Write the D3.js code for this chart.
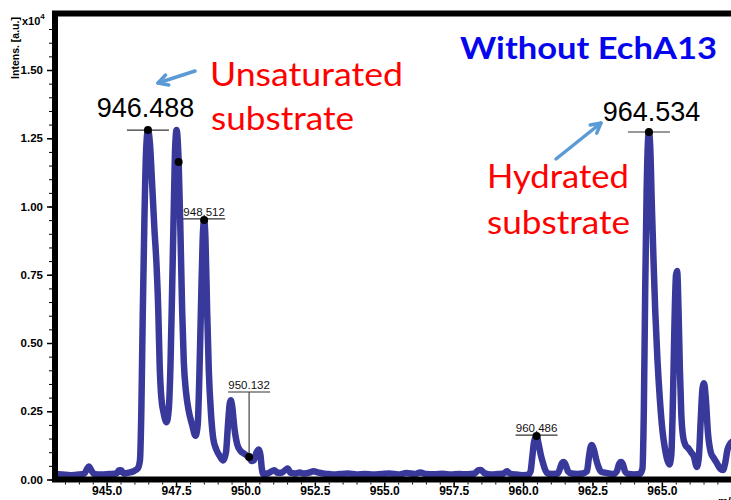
<!DOCTYPE html>
<html>
<head>
<meta charset="utf-8">
<script src="https://cdn.jsdelivr.net/npm/d3@7"></script>
<style>
  html, body { margin: 0; padding: 0; background: #fff; }
  svg { display: block; }
</style>
</head>
<body>
<svg id="chart" width="731" height="500"></svg>
<script>
// Mass spectrum, m/z vs. intensity (x10^4 a.u.)
const mz = [
  943.10, 943.40, 943.70, 944.00, 944.20, 944.30, 944.36, 944.44, 944.55, 944.80,
  945.10, 945.35, 945.45, 945.52, 945.62, 945.80, 946.00, 946.12, 946.20, 946.25,
  946.30, 946.36, 946.42, 946.488, 946.56, 946.64, 946.72, 946.80, 946.86, 946.91,
  946.97, 947.06, 947.16, 947.24, 947.30, 947.36, 947.42, 947.47, 947.52, 947.594,
  947.66, 947.72, 947.78, 947.86, 947.96, 948.08, 948.20, 948.28, 948.34, 948.40,
  948.46, 948.512, 948.56, 948.62, 948.68, 948.76, 948.84, 948.95, 949.08, 949.20,
  949.30, 949.37, 949.43, 949.47, 949.52, 949.60, 949.70, 949.82, 949.95, 950.05,
  950.132, 950.22, 950.30, 950.40, 950.48, 950.54, 950.59, 950.64, 950.80, 950.95,
  951.05, 951.15, 951.30, 951.45, 951.52, 951.62, 951.80, 951.95, 952.10, 952.30,
  952.45, 952.60, 952.80, 953.00, 953.20, 953.40, 953.70, 954.00, 954.30, 954.60,
  954.90, 955.20, 955.50, 955.80, 956.10, 956.30, 956.50, 956.80, 957.10, 957.40,
  957.70, 958.00, 958.25, 958.40, 958.48, 958.60, 958.85, 959.10, 959.30, 959.42,
  959.52, 959.75, 960.00, 960.18, 960.27, 960.33, 960.40, 960.486, 960.56, 960.64,
  960.72, 960.80, 960.90, 961.05, 961.25, 961.33, 961.40, 961.46, 961.53, 961.62,
  961.75, 961.95, 962.15, 962.30, 962.37, 962.43, 962.48, 962.55, 962.63, 962.72,
  962.82, 962.95, 963.10, 963.25, 963.38, 963.45, 963.53, 963.60, 963.68, 963.80,
  964.00, 964.20, 964.30, 964.35, 964.40, 964.45, 964.50, 964.534, 964.58, 964.64,
  964.70, 964.76, 964.84, 964.93, 965.02, 965.10, 965.20, 965.27, 965.34, 965.40,
  965.46, 965.51, 965.55, 965.60, 965.65, 965.70, 965.76, 965.85, 965.95, 966.05,
  966.15, 966.26, 966.33, 966.40, 966.46, 966.52, 966.58, 966.66, 966.76, 966.86,
  966.98, 967.10, 967.20, 967.28, 967.36, 967.45, 967.55
];
const intensity = [
  0.020, 0.018, 0.016, 0.018, 0.022, 0.040, 0.048, 0.035, 0.020, 0.018,
  0.020, 0.022, 0.034, 0.034, 0.022, 0.025, 0.032, 0.040, 0.070, 0.250,
  0.600, 0.950, 1.200, 1.280, 1.230, 1.080, 0.920, 0.780, 0.620, 0.420,
  0.300, 0.240, 0.210, 0.260, 0.420, 0.700, 1.000, 1.220, 1.280, 1.163,
  0.900, 0.620, 0.430, 0.320, 0.250, 0.200, 0.160, 0.200, 0.380, 0.640,
  0.880, 0.951, 0.880, 0.620, 0.400, 0.240, 0.150, 0.110, 0.085, 0.070,
  0.100, 0.200, 0.275, 0.290, 0.270, 0.190, 0.130, 0.105, 0.095, 0.088,
  0.082, 0.068, 0.070, 0.100, 0.110, 0.090, 0.040, 0.020, 0.022, 0.030,
  0.034, 0.025, 0.025, 0.036, 0.040, 0.025, 0.022, 0.026, 0.022, 0.025,
  0.030, 0.026, 0.022, 0.020, 0.018, 0.020, 0.022, 0.018, 0.020, 0.018,
  0.020, 0.022, 0.018, 0.024, 0.020, 0.026, 0.020, 0.019, 0.021, 0.018,
  0.020, 0.019, 0.022, 0.034, 0.035, 0.024, 0.018, 0.020, 0.022, 0.030,
  0.022, 0.018, 0.016, 0.018, 0.030, 0.080, 0.140, 0.159, 0.130, 0.090,
  0.060, 0.035, 0.022, 0.020, 0.022, 0.040, 0.060, 0.064, 0.055, 0.030,
  0.022, 0.020, 0.022, 0.030, 0.080, 0.118, 0.126, 0.110, 0.075, 0.045,
  0.028, 0.025, 0.022, 0.020, 0.030, 0.055, 0.064, 0.055, 0.028, 0.020,
  0.018, 0.020, 0.040, 0.250, 0.700, 1.050, 1.240, 1.273, 1.220, 1.000,
  0.800, 0.620, 0.440, 0.290, 0.180, 0.120, 0.070, 0.055, 0.090, 0.300,
  0.600, 0.750, 0.764, 0.620, 0.400, 0.240, 0.160, 0.125, 0.115, 0.100,
  0.085, 0.046, 0.080, 0.220, 0.330, 0.353, 0.300, 0.170, 0.100, 0.080,
  0.060, 0.040, 0.035, 0.060, 0.108, 0.130, 0.140
];

// Annotated peaks
const peakMz        = [946.488, 947.594, 948.512, 950.132, 960.486, 964.534];
const peakIntensity = [1.280,   1.163,   0.951,   0.082,   0.159,   1.273];
const peakText      = ["946.488", "", "948.512", "950.132", "960.486", "964.534"];

const yTicks = [0, 0.25, 0.5, 0.75, 1.0, 1.25, 1.5];
const xTicks = [945.0, 947.5, 950.0, 952.5, 955.0, 957.5, 960.0, 962.5, 965.0];

const svg = d3.select("#chart");
const plotLeft = 55, plotTop = 13.5, plotBottom = 479.5, plotRight = 731;

const x = d3.scaleLinear().domain([943.14, 967.49]).range([plotLeft, plotRight]);
const y = d3.scaleLinear().domain([0, 1.707]).range([plotBottom, plotTop]);

const axisFont = "'Liberation Sans', Arial, sans-serif";

// clip for the trace
svg.append("defs").append("clipPath").attr("id", "plotClip")
  .append("rect").attr("x", plotLeft + 3).attr("y", plotTop + 3)
  .attr("width", plotRight - plotLeft).attr("height", plotBottom - plotTop - 3);

// y axis: minor + major ticks
const yMinor = d3.range(0, 1.70, 0.05);
svg.append("g").attr("transform", `translate(${plotLeft - 3},0)`)
  .call(d3.axisLeft(y).tickValues(yMinor).tickSize(3).tickFormat(""))
  .call(g => g.select(".domain").remove())
  .call(g => g.selectAll("line").attr("stroke", "#000").attr("stroke-width", 1));

svg.append("g").attr("transform", `translate(${plotLeft - 3},0)`)
  .call(d3.axisLeft(y).tickValues(yTicks).tickSize(5).tickPadding(4).tickFormat(d3.format(".2f")))
  .call(g => g.select(".domain").remove())
  .call(g => g.selectAll("line").attr("stroke", "#000").attr("stroke-width", 1.5))
  .call(g => g.selectAll("text").attr("font-family", axisFont).attr("font-weight", "bold")
    .attr("font-size", 11.5).attr("fill", "#000"));

// x axis
svg.append("g").attr("transform", `translate(0,${plotBottom + 3})`)
  .call(d3.axisBottom(x).tickValues(d3.range(943.5, 967.5, 0.5)).tickSize(2).tickFormat(""))
  .call(g => g.select(".domain").remove())
  .call(g => g.selectAll("line").attr("stroke", "#000").attr("stroke-width", 1));

svg.append("g").attr("transform", `translate(0,${plotBottom + 3})`)
  .call(d3.axisBottom(x).tickValues(xTicks).tickSize(4).tickPadding(0).tickFormat(d3.format(".1f")))
  .call(g => g.select(".domain").remove())
  .call(g => g.selectAll("line").attr("stroke", "#000").attr("stroke-width", 1.5))
  .call(g => g.selectAll("text").attr("font-family", axisFont).attr("font-weight", "bold")
    .attr("font-size", 12).attr("fill", "#000"));

// axis titles
svg.append("text")
  .attr("transform", "translate(19,48) rotate(-90)")
  .attr("text-anchor", "middle")
  .attr("font-family", axisFont).attr("font-weight", "bold").attr("font-size", 10.5)
  .text("Intens. [a.u.]");
const mult = svg.append("text").attr("x", 22).attr("y", 25)
  .attr("font-family", axisFont).attr("font-weight", "bold").attr("font-size", 11);
mult.append("tspan").text("x10");
mult.append("tspan").attr("dy", -6).attr("font-size", 8).text("4");

svg.append("text").attr("x", 718).attr("y", 505)
  .attr("font-family", axisFont).attr("font-weight", "bold").attr("font-size", 11)
  .text("m/z");

// spectrum trace
const line = d3.line()
  .x((d, i) => x(mz[i]))
  .y((d, i) => y(intensity[i]))
  .curve(d3.curveMonotoneX);

svg.append("path")
  .datum(mz)
  .attr("clip-path", "url(#plotClip)")
  .attr("d", line)
  .attr("fill", "none")
  .attr("stroke", "#39399b")
  .attr("stroke-width", 6.5)
  .attr("stroke-linejoin", "round")
  .attr("stroke-linecap", "round");

// frame
svg.append("path")
  .attr("d", `M${plotLeft},${plotBottom + 3} V${plotTop} H${plotRight + 10} M${plotLeft - 3},${plotBottom} H${plotRight + 10}`)
  .attr("fill", "none").attr("stroke", "#000").attr("stroke-width", 6);

// peak labels
const labelFont = "'Liberation Sans', Arial, sans-serif";
// enlarged labels: horizontal nudge and lift of the text above the centroid bar
const bigLabel = new Map([["946.488", { dx: -2.5, lift: 13 }], ["964.534", { dx: 2.5, lift: 11 }]]);
peakMz.forEach((m, i) => {
  const px = x(m), py = y(peakIntensity[i]), t = peakText[i];
  if (t === "") {
    // unlabelled centroid marker
  } else if (bigLabel.has(t)) {
    const o = bigLabel.get(t);
    svg.append("line").attr("x1", px - 21).attr("x2", px + 21).attr("y1", py).attr("y2", py)
      .attr("stroke", "#333").attr("stroke-width", 1.2);
    svg.append("text").attr("x", px + o.dx).attr("y", py - o.lift).attr("text-anchor", "middle")
      .attr("font-family", labelFont).attr("font-size", 27).attr("fill", "#000").text(t);
  } else if (t === "950.132") {
    // label raised above the neighbouring peak with a leader line
    const ly = 392;
    svg.append("line").attr("x1", px - 21).attr("x2", px + 21).attr("y1", ly).attr("y2", ly)
      .attr("stroke", "#333").attr("stroke-width", 1.2);
    svg.append("line").attr("x1", px).attr("x2", px).attr("y1", ly).attr("y2", py)
      .attr("stroke", "#444").attr("stroke-width", 1.2);
    svg.append("text").attr("x", px).attr("y", ly - 3).attr("text-anchor", "middle")
      .attr("font-family", labelFont).attr("font-size", 11.5).attr("fill", "#111").text(t);
  } else {
    svg.append("line").attr("x1", px - 21).attr("x2", px + 21).attr("y1", py - 1).attr("y2", py - 1)
      .attr("stroke", "#333").attr("stroke-width", 1.2);
    svg.append("text").attr("x", px).attr("y", py - 4).attr("text-anchor", "middle")
      .attr("font-family", labelFont).attr("font-size", 11.5).attr("fill", "#111").text(t);
  }
  svg.append("circle").attr("cx", px).attr("cy", py).attr("r", 4).attr("fill", "#000");
});

// heading and callouts
const noteFont = "Lato, 'Open Sans', sans-serif";
svg.append("text").attr("x", 460).attr("y", 59)
  .attr("font-family", noteFont).attr("font-weight", "bold").attr("font-size", 31)
  .attr("fill", "#0505ee").attr("textLength", 257).attr("lengthAdjust", "spacingAndGlyphs")
  .text("Without EchA13");

const notes = [
  { t: "Unsaturated", xx: 210, yy: 86, w: 193 },
  { t: "substrate", xx: 211, yy: 130, w: 143 },
  { t: "Hydrated", xx: 487, yy: 188, w: 142 },
  { t: "substrate", xx: 487, yy: 234, w: 143 }
];
notes.forEach(n => {
  svg.append("text").attr("x", n.xx).attr("y", n.yy)
    .attr("font-family", noteFont).attr("font-size", 32).attr("fill", "#ff0000")
    .attr("textLength", n.w).attr("lengthAdjust", "spacingAndGlyphs").text(n.t);
});

// arrows
function arrow(x1, y1, x2, y2) {
  const a = Math.atan2(y2 - y1, x2 - x1), h = 11, s = 0.5;
  const g = svg.append("g").attr("stroke", "#5b9bd5").attr("stroke-width", 3.5)
    .attr("fill", "none").attr("stroke-linecap", "round").attr("stroke-linejoin", "round");
  g.append("line").attr("x1", x1).attr("y1", y1).attr("x2", x2).attr("y2", y2);
  g.append("path").attr("d",
    `M${x2 - h * Math.cos(a - s)},${y2 - h * Math.sin(a - s)} L${x2},${y2} L${x2 - h * Math.cos(a + s)},${y2 - h * Math.sin(a + s)}`);
}
arrow(195, 71, 158, 83);
arrow(556, 159, 601, 123);
</script>
</body>
</html>
